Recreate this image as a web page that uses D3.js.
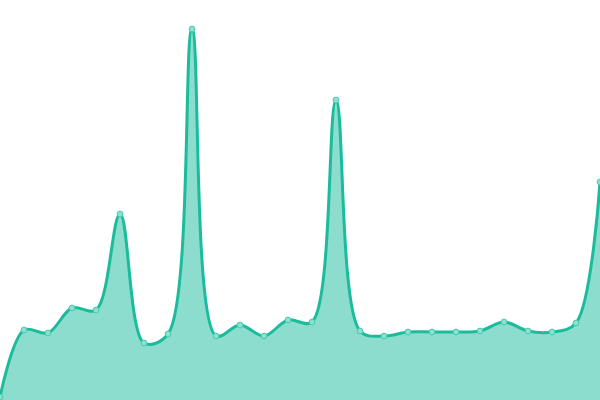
<!DOCTYPE html>
<html><head><meta charset="utf-8">
<script src="https://cdn.jsdelivr.net/npm/d3@7"></script>
<style>html,body{margin:0;padding:0;background:#fff;}svg{display:block;}</style>
</head><body>
<svg id="chart" width="600" height="400"></svg>
<script>
const categories = d3.range(1, 27).map(String);
const values = [3, 70, 67, 92, 90, 186, 57, 66, 371, 64, 75, 64, 80, 78, 300, 69, 64, 68, 68, 68, 69, 78, 69, 68, 77, 218];

const W = 600, H = 400;
const svg = d3.select("#chart");
const x = d3.scalePoint().domain(categories).range([0, W]);
const y = d3.scaleLinear().domain([0, 400]).range([H, 0]);

const data = categories.map((c, i) => ({c, v: values[i]}));
const curve = d3.curveCatmullRom.alpha(0.5);

svg.append("path").datum(data)
  .attr("fill", "#1abc9c").attr("fill-opacity", 0.5)
  .attr("d", d3.area().x(d => x(d.c)).y0(H).y1(d => y(d.v)).curve(curve));

svg.append("path").datum(data)
  .attr("fill", "none").attr("stroke", "#1abc9c").attr("stroke-width", 3)
  .attr("d", d3.line().x(d => x(d.c)).y(d => y(d.v)).curve(curve));

svg.selectAll("circle").data(data).join("circle")
  .attr("cx", d => x(d.c)).attr("cy", d => y(d.v)).attr("r", 2.9)
  .attr("fill", "#8de0cf").attr("stroke", "#46cbae").attr("stroke-width", 1);
</script>
</body></html>
